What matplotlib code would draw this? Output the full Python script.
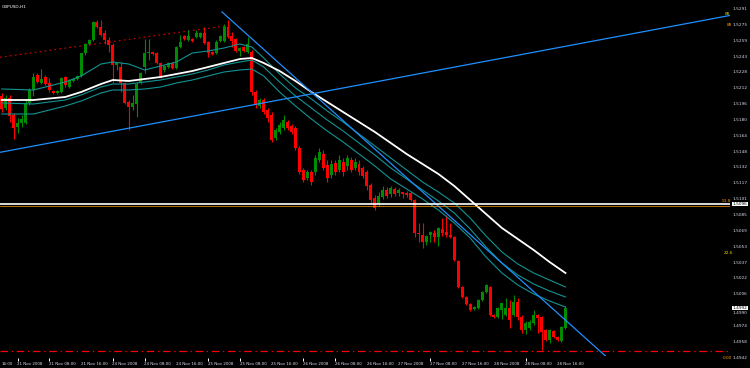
import numpy as np
import matplotlib.pyplot as plt
import matplotlib.transforms as mtransforms

# GBPUSD hourly candles, oldest first
opens = [1.5204, 1.5192, 1.5202, 1.5185, 1.5173, 1.5177, 1.5177, 1.5197, 1.5210, 1.5225,
         1.5217, 1.5223, 1.5217, 1.5209, 1.5207, 1.5208, 1.5223, 1.5213, 1.5219, 1.5221,
         1.5224, 1.5247, 1.5256, 1.5260, 1.5278, 1.5273, 1.5267, 1.5260, 1.5255, 1.5235,
         1.5233, 1.5217, 1.5198, 1.5193, 1.5196, 1.5217, 1.5233, 1.5247, 1.5248, 1.5247,
         1.5237, 1.5230, 1.5233, 1.5237, 1.5232, 1.5253, 1.5264, 1.5260, 1.5261, 1.5263,
         1.5263, 1.5267, 1.5258, 1.5248, 1.5247, 1.5259, 1.5259, 1.5273, 1.5264, 1.5261,
         1.5249, 1.5253, 1.5248, 1.5248, 1.5208, 1.5194, 1.5200, 1.5190, 1.5185, 1.5162,
         1.5168, 1.5172, 1.5178, 1.5174, 1.5172, 1.5152, 1.5130, 1.5122, 1.5128, 1.5128,
         1.5140, 1.5146, 1.5135, 1.5125, 1.5137, 1.5130, 1.5138, 1.5134, 1.5140, 1.5132,
         1.5136, 1.5132, 1.5128, 1.5115, 1.5102, 1.5096, 1.5103, 1.5110, 1.5106, 1.5111,
         1.5107, 1.5108, 1.5107, 1.5107, 1.5100, 1.5067, 1.5065, 1.5058, 1.5065, 1.5067,
         1.5063, 1.5071, 1.5068, 1.5065, 1.5063, 1.5039, 1.5013, 1.5003, 1.4996, 1.4991,
         1.4992, 1.5000, 1.5008, 1.5013, 1.4985, 1.4983, 1.4990, 1.4985, 1.4992, 1.4985,
         1.4998, 1.4983, 1.4970, 1.4972, 1.4977, 1.4985, 1.4983, 1.4970, 1.4960, 1.4969,
         1.4963, 1.4959, 1.4972]
highs = [1.5207, 1.5205, 1.5205, 1.5187, 1.5182, 1.5185, 1.5200, 1.5212, 1.5227, 1.5227,
         1.5231, 1.5225, 1.5222, 1.5210, 1.5210, 1.5223, 1.5224, 1.5221, 1.5222, 1.5225,
         1.5247, 1.5257, 1.5261, 1.5279, 1.5280, 1.5280, 1.5270, 1.5263, 1.5257, 1.5238,
         1.5238, 1.5218, 1.5200, 1.5205, 1.5218, 1.5228, 1.5261, 1.5261, 1.5249, 1.5248,
         1.5238, 1.5235, 1.5238, 1.5238, 1.5254, 1.5265, 1.5265, 1.5270, 1.5262, 1.5270,
         1.5268, 1.5273, 1.5259, 1.5249, 1.5260, 1.5265, 1.5276, 1.5280, 1.5268, 1.5262,
         1.5253, 1.5254, 1.5263, 1.5250, 1.5210, 1.5202, 1.5202, 1.5192, 1.5188, 1.5172,
         1.5178, 1.5185, 1.5180, 1.5176, 1.5174, 1.5154, 1.5132, 1.5130, 1.5130, 1.5145,
         1.5152, 1.5150, 1.5140, 1.5140, 1.5140, 1.5145, 1.5142, 1.5145, 1.5143, 1.5142,
         1.5140, 1.5134, 1.5130, 1.5117, 1.5105, 1.5108, 1.5114, 1.5113, 1.5114, 1.5113,
         1.5112, 1.5108, 1.5109, 1.5108, 1.5101, 1.5077, 1.5077, 1.5065, 1.5069, 1.5070,
         1.5073, 1.5082, 1.5085, 1.5077, 1.5064, 1.5040, 1.5014, 1.5004, 1.4997, 1.4994,
         1.5001, 1.5009, 1.5016, 1.5014, 1.4986, 1.4993, 1.4997, 1.5002, 1.5000, 1.5005,
         1.5002, 1.4985, 1.4979, 1.4980, 1.4990, 1.4986, 1.4984, 1.4971, 1.4971, 1.4970,
         1.4964, 1.4974, 1.4994]
lows = [1.5188, 1.5190, 1.5178, 1.5161, 1.5167, 1.5173, 1.5176, 1.5195, 1.5204, 1.5217,
        1.5216, 1.5215, 1.5208, 1.5206, 1.5206, 1.5207, 1.5213, 1.5212, 1.5218, 1.5220,
        1.5223, 1.5245, 1.5255, 1.5259, 1.5272, 1.5264, 1.5256, 1.5248, 1.5217, 1.5230,
        1.5208, 1.5196, 1.5170, 1.5190, 1.5183, 1.5216, 1.5227, 1.5240, 1.5245, 1.5236,
        1.5222, 1.5228, 1.5232, 1.5231, 1.5231, 1.5252, 1.5260, 1.5259, 1.5258, 1.5262,
        1.5262, 1.5256, 1.5243, 1.5245, 1.5246, 1.5258, 1.5258, 1.5262, 1.5253, 1.5248,
        1.5244, 1.5248, 1.5247, 1.5205, 1.5192, 1.5192, 1.5186, 1.5178, 1.5158, 1.5160,
        1.5166, 1.5170, 1.5170, 1.5166, 1.5150, 1.5126, 1.5118, 1.5120, 1.5115, 1.5125,
        1.5138, 1.5130, 1.5118, 1.5122, 1.5125, 1.5128, 1.5124, 1.5130, 1.5128, 1.5130,
        1.5125, 1.5122, 1.5110, 1.5096, 1.5090, 1.5094, 1.5101, 1.5102, 1.5103, 1.5104,
        1.5104, 1.5102, 1.5103, 1.5099, 1.5063, 1.5058, 1.5052, 1.5055, 1.5058, 1.5058,
        1.5054, 1.5064, 1.5063, 1.5062, 1.5039, 1.5012, 1.5002, 1.4995, 1.4989, 1.4990,
        1.4991, 1.4999, 1.5007, 1.4984, 1.4982, 1.4982, 1.4981, 1.4984, 1.4972, 1.4984,
        1.4980, 1.4967, 1.4966, 1.4970, 1.4975, 1.4967, 1.4950, 1.4959, 1.4957, 1.4962,
        1.4959, 1.4958, 1.4971]
closes = [1.5191, 1.5202, 1.5184, 1.5172, 1.5177, 1.5181, 1.5197, 1.5210, 1.5223, 1.5218,
          1.5221, 1.5216, 1.5210, 1.5207, 1.5209, 1.5222, 1.5215, 1.5220, 1.5221, 1.5224,
          1.5247, 1.5256, 1.5260, 1.5278, 1.5273, 1.5265, 1.5260, 1.5255, 1.5235, 1.5237,
          1.5217, 1.5197, 1.5193, 1.5197, 1.5216, 1.5227, 1.5247, 1.5248, 1.5246, 1.5237,
          1.5223, 1.5234, 1.5237, 1.5232, 1.5253, 1.5258, 1.5261, 1.5264, 1.5259, 1.5267,
          1.5267, 1.5257, 1.5247, 1.5246, 1.5258, 1.5264, 1.5273, 1.5263, 1.5259, 1.5249,
          1.5252, 1.5249, 1.5256, 1.5208, 1.5195, 1.5200, 1.5188, 1.5182, 1.5160, 1.5170,
          1.5175, 1.5180, 1.5172, 1.5168, 1.5152, 1.5128, 1.5120, 1.5128, 1.5118, 1.5142,
          1.5148, 1.5132, 1.5122, 1.5136, 1.5128, 1.5140, 1.5128, 1.5142, 1.5130, 1.5138,
          1.5128, 1.5124, 1.5114, 1.5100, 1.5092, 1.5104, 1.5110, 1.5104, 1.5112, 1.5106,
          1.5110, 1.5106, 1.5105, 1.5100, 1.5067, 1.5066, 1.5058, 1.5064, 1.5068, 1.5063,
          1.5072, 1.5067, 1.5065, 1.5063, 1.5040, 1.5013, 1.5003, 1.4996, 1.4990, 1.4993,
          1.5000, 1.5008, 1.5015, 1.4985, 1.4983, 1.4992, 1.4997, 1.4992, 1.4980, 1.4998,
          1.4983, 1.4970, 1.4977, 1.4978, 1.4985, 1.4982, 1.4968, 1.4960, 1.4970, 1.4963,
          1.4960, 1.4973, 1.4992]

# moving average (white) and the three teal envelope lines, read at these bars
ma_idx = [0, 8, 16, 20, 25, 28, 32, 36, 40, 44, 48, 52, 56, 60, 63, 66, 70, 74, 78, 82,
          86, 90, 94, 98, 102, 106, 110, 114, 118, 122, 126, 130, 134, 138, 142]
ma_white = [1.5200, 1.5200, 1.5203, 1.5208, 1.5216, 1.5220, 1.5219, 1.5221, 1.5223, 1.5226,
            1.5229, 1.5233, 1.5237, 1.5241, 1.5242, 1.5237, 1.5229, 1.5219, 1.5208, 1.5198,
            1.5188, 1.5178, 1.5168, 1.5157, 1.5146, 1.5136, 1.5126, 1.5114, 1.5100, 1.5086,
            1.5072, 1.5061, 1.5050, 1.5038, 1.5027]
env_upper = [1.5211, 1.5210, 1.5218, 1.5224, 1.5236, 1.5238, 1.5236, 1.5230, 1.5234, 1.5238,
             1.5247, 1.5249, 1.5252, 1.5256, 1.5253, 1.5242, 1.5226, 1.5212, 1.5201, 1.5189,
             1.5178, 1.5166, 1.5154, 1.5142, 1.5130, 1.5118, 1.5108, 1.5097, 1.5082, 1.5064,
             1.5048, 1.5036, 1.5027, 1.5020, 1.5013]
env_mid = [1.5197, 1.5196, 1.5200, 1.5205, 1.5213, 1.5216, 1.5216, 1.5218, 1.5220, 1.5223,
           1.5226, 1.5230, 1.5235, 1.5238, 1.5240, 1.5233, 1.5218, 1.5204, 1.5192, 1.5180,
           1.5169, 1.5157, 1.5145, 1.5132, 1.5121, 1.5110, 1.5099, 1.5087, 1.5071, 1.5053,
           1.5037, 1.5025, 1.5016, 1.5009, 1.5003]
env_lower = [1.5186, 1.5186, 1.5194, 1.5199, 1.5207, 1.5210, 1.5210, 1.5211, 1.5213, 1.5217,
             1.5220, 1.5224, 1.5228, 1.5230, 1.5231, 1.5224, 1.5208, 1.5194, 1.5181, 1.5169,
             1.5158, 1.5146, 1.5134, 1.5121, 1.5111, 1.5101, 1.5090, 1.5077, 1.5062, 1.5043,
             1.5027, 1.5015, 1.5006, 1.4999, 1.4993]

# trend lines: (bar, price) anchor pairs
channel_line = [(0, 1.5148), (180, 1.5282)]
down_line = [(55.5, 1.5288), (140, 1.4987)]
red_dotted = [(0, 1.5243), (58, 1.5275)]
h_line = 1.5096
low_line = 1.4949

date_idx = [4 + 8 * k for k in range(18)]
date_labels = ['21 Nov 2008', '21 Nov 08:00', '21 Nov 16:00', '24 Nov 2008', '24 Nov 08:00',
               '24 Nov 16:00', '25 Nov 2008', '25 Nov 08:00', '25 Nov 16:00', '26 Nov 2008',
               '26 Nov 08:00', '26 Nov 16:00', '27 Nov 2008', '27 Nov 08:00', '27 Nov 16:00',
               '28 Nov 2008', '28 Nov 08:00', '28 Nov 16:00']
date_marks = [0, 1, 3, 4, 6, 7, 9, 10, 13, 16]

fig = plt.figure(figsize=(7.5, 3.68), dpi=100, facecolor='black')
ax = fig.add_axes([0, 12 / 368, 730 / 750, 356 / 368])
ax.set_facecolor('black')
for s in ax.spines.values():
    s.set_visible(False)
ax.set_xticks([])
ax.set_yticks([])
ax.set_xlim(-0.43, 183.45)
ax.set_ylim(1.5300 - 0.0356, 1.5300)

o = np.array(opens); h = np.array(highs); l = np.array(lows); c = np.array(closes)
x = np.arange(len(o))
col = np.where(c >= o, '#008c00', '#ff0000')
ax.vlines(x, l, h, colors=col, lw=0.8, zorder=3)
ax.bar(x, np.maximum(np.abs(c - o), 0.00012), bottom=np.minimum(o, c), width=0.75,
       color=col, linewidth=0, zorder=3)

# envelopes and MA
for env in (env_upper, env_mid, env_lower):
    ax.plot(ma_idx, env, color='#119393', lw=0.8, zorder=4)
ax.plot(ma_idx, ma_white, color='white', lw=1.3, zorder=5)

# trend lines
def ray(p, x0, x1, **kw):
    (a, pa), (b, pb) = p
    k = (pb - pa) / (b - a)
    ax.plot([x0, x1], [pa + k * (x0 - a), pa + k * (x1 - a)], **kw)

ray(channel_line, -0.43, 183.45, color='#1e90ff', lw=0.9, zorder=6)
ray(down_line, 55.5, 183.45, color='#1e90ff', lw=0.9, zorder=6)
ray(red_dotted, -0.43, 58, color='#e00000', lw=0.8, ls=(0, (1.5, 3)), zorder=2)

ax.axhline(h_line, color='white', lw=1.2, zorder=6)
ax.axhline(h_line - 0.00016, color='#ff9a00', lw=0.5, zorder=6)
ax.axhline(low_line, color='#ff0000', lw=0.9, ls=(0, (6, 3, 1, 3)), zorder=2)

# price scale on the right
yt = ax.get_yaxis_transform()
boxed = (h_line, closes[-1])
for k in range(23):
    v = 1.5291 - k * 0.001585
    pos = v
    for b in boxed:
        if abs(v - b) < 0.0005:
            pos = b + np.sign(v - b) * 0.0005
    ax.text(1.004, pos, f'{v:.4f}', transform=yt, fontsize=3.1, color='#d8dfec',
            va='center', ha='left', clip_on=False)
for v in boxed:
    ax.text(1.004, v, f'{v:.4f}', transform=yt, fontsize=3.1, color='black',
            va='center', ha='left', clip_on=False, zorder=8,
            bbox=dict(facecolor='white', edgecolor='none', pad=0.3))

# object labels near the right edge
ax.text(0.993, 1.5286, '88', transform=yt, fontsize=3.1, color='#c8dc00', va='center', ha='left')
ax.text(0.996, 1.5275, '88', transform=yt, fontsize=3.1, color='#ff9a00', va='center', ha='left')
ax.text(0.989, h_line + 0.00025, '51.8', transform=yt, fontsize=3.1, color='#ff9a00',
        va='center', ha='left')
ax.text(0.991, 1.5047, '22.6', transform=yt, fontsize=3.1, color='#f0d800', va='center', ha='left')
ax.text(0.990, 1.4942, '0.00', transform=yt, fontsize=3.1, color='#ff9a00', va='center', ha='left',
        clip_on=False)

ax.text(0.003, 0.985, 'GBPUSD,H1', transform=ax.transAxes, fontsize=3.1, color='white',
        va='top', ha='left')

# time axis
bt = mtransforms.blended_transform_factory(ax.transData, ax.transAxes)
ax.text(0.0, -0.022, '16:00', transform=bt, fontsize=2.9, color='#d8dfec', va='center', ha='left',
        clip_on=False)
for i, lab in zip(date_idx, date_labels):
    ax.text(i - 0.1, -0.022, lab, transform=bt, fontsize=2.9, color='#d8dfec',
            va='center', ha='left', clip_on=False)
ax.vlines([date_idx[k] for k in date_marks], -0.014, -0.006, transform=bt,
          colors='white', lw=0.7, clip_on=False)

fig.savefig('out.png', dpi=100, facecolor='black')
